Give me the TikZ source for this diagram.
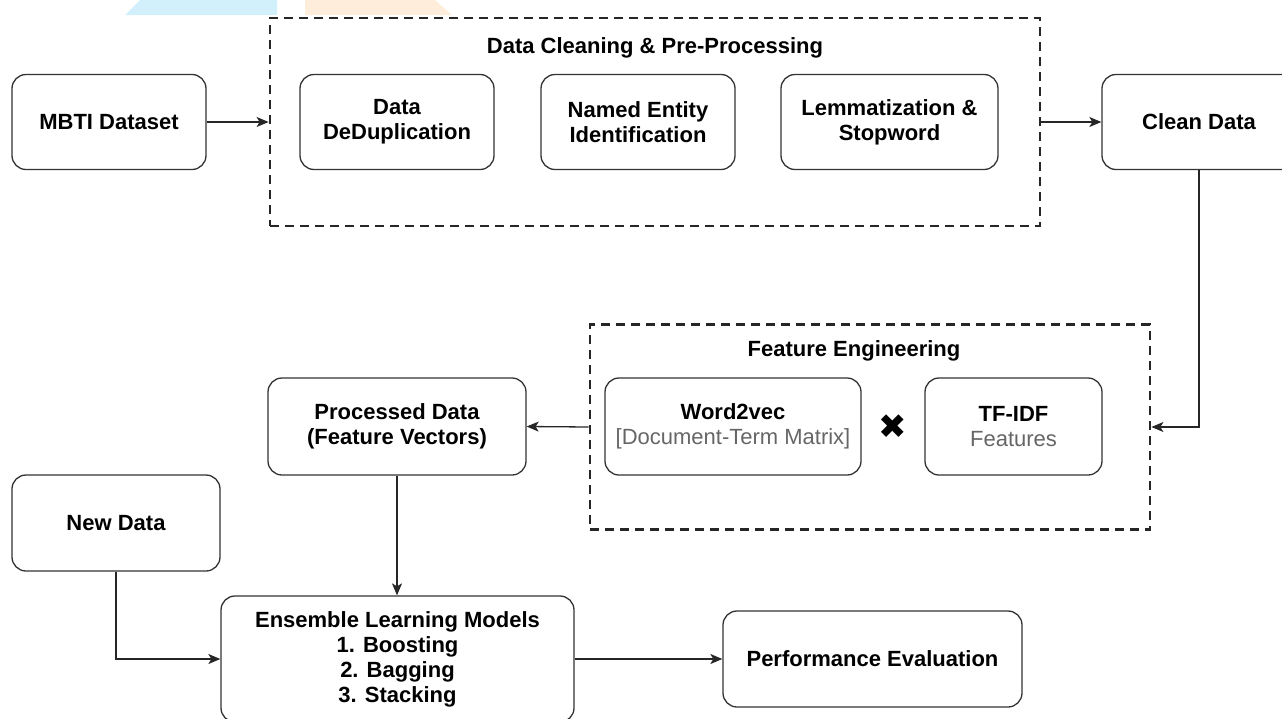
\documentclass[tikz,border=0pt]{standalone}
\usepackage{fontspec}
\setmainfont{Liberation Sans}
\newfontfamily\symfont{DejaVu Sans}
\usetikzlibrary{arrows.meta}
\def\fs{\fontsize{22}{25}\selectfont}
\tikzset{>={Stealth[length=12pt,width=10pt,inset=3pt]}}
\tikzset{
  box/.style={draw=black!80, line width=1.3pt, rounded corners=14pt, align=center,
    font=\fs\bfseries, inner sep=0pt},
  group/.style={draw=black!85, line width=2.8pt, dash pattern=on 9pt off 6pt, inner sep=0pt},
  grouptitle/.style={font=\fs\bfseries},
  flow/.style={->, draw=black!85, line width=1.3pt}
}

\begin{document}
\begin{tikzpicture}[x=1pt,y=-1pt]
  \useasboundingbox (0,0) rectangle (1282,718);
  \clip (0,0) rectangle (1282,718);
  % faint marks along the top edge
  \fill[cyan!18] (125,15) -- (140,0) -- (277,0) -- (277,15) -- cycle;
  \fill[orange!14] (305,15) -- (305,0) -- (435,0) -- (452,15) -- cycle;

  % pre-processing stage
  \node[group, minimum width=770pt, minimum height=208pt] (prep) at (655,122) {};
  \node[grouptitle] (preptitle) at (655,48) {Data Cleaning \& Pre-Processing};
  \node[box, minimum width=194pt, minimum height=95pt] (mbti) at (109,122) {MBTI Dataset};
  \node[box, minimum width=194pt, minimum height=95pt] (dedup) at (397,122) {Data\\DeDuplication};
  \node[box, minimum width=194pt, minimum height=95pt] (ner) at (638,122) {Named Entity\\Identification};
  \node[box, minimum width=217pt, minimum height=95pt] (lemma) at (889.5,122) {Lemmatization \&\\Stopword};
  \node[box, minimum width=194pt, minimum height=95pt] (clean) at (1199,122) {Clean Data};

  % feature engineering stage
  \node[group, minimum width=560pt, minimum height=205pt] (feat) at (870,427) {};
  \node[grouptitle] (feattitle) at (854,351) {Feature Engineering};
  \node[box, minimum width=256pt, minimum height=97pt] (w2v) at (733,426.5)
    {Word2vec\\{\fs\mdseries\color{black!60}[Document-Term Matrix]}};
  \node (times) at (893,427) {\symfont\fontsize{34}{34}\selectfont ✖};
  \node[box, minimum width=177pt, minimum height=97pt] (tfidf) at (1013.5,426.5)
    {TF-IDF\\{\fs\mdseries\color{black!60}Features}};
  \node[box, minimum width=258pt, minimum height=97pt] (proc) at (397,426.5)
    {Processed Data\\(Feature Vectors)};

  % modelling stage
  \node[box, minimum width=208pt, minimum height=96pt] (newdata) at (116,523) {New Data};
  \node[box, minimum width=353pt, minimum height=126pt] (ens) at (397.5,659)
    {Ensemble Learning Models\\1. Boosting\\2. Bagging\\3. Stacking};
  \node[box, minimum width=299pt, minimum height=96pt] (perf) at (872.5,659) {Performance Evaluation};

  % connectors
  \draw[flow] (mbti) -- (prep);
  \draw[flow] (prep) -- (clean);
  \draw[flow] (clean.south) |- (feat.east);
  \draw[flow] (feat.west) -- (proc.east);
  \draw[flow] (proc.south) -- (proc.south |- ens.north);
  \draw[flow] (newdata.south) |- (ens.west);
  \draw[flow] (ens) -- (perf);
\end{tikzpicture}
\end{document}
